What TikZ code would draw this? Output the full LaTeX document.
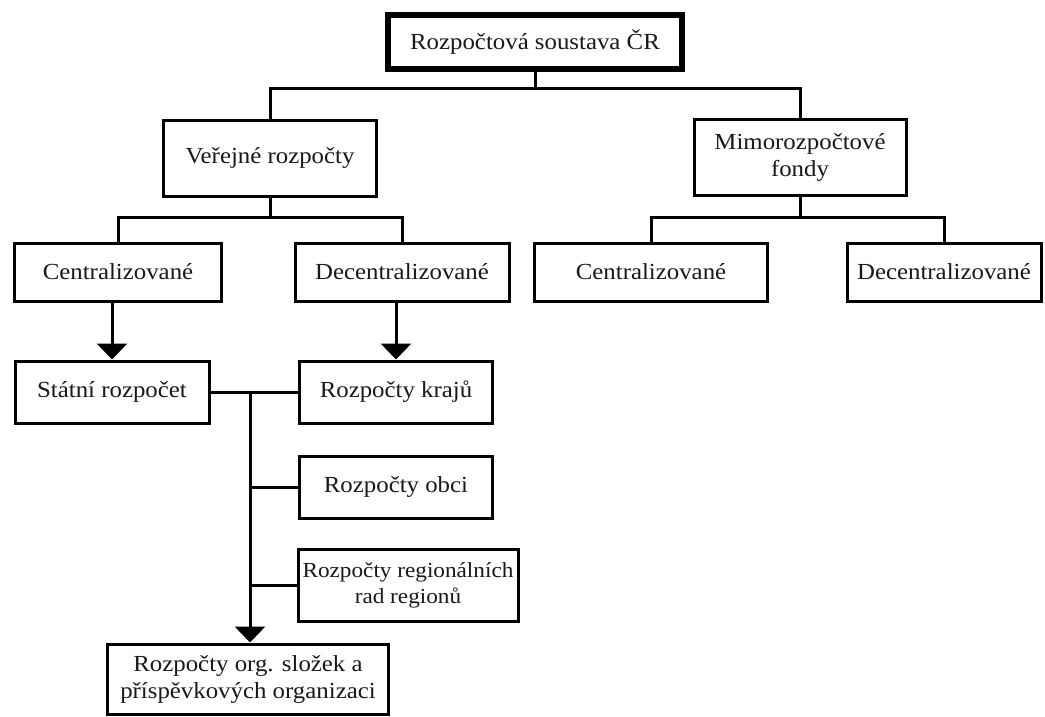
\documentclass[tikz,border=0pt]{standalone}
\usepackage{fontspec}
\setmainfont{Liberation Serif}[FakeStretch=1.08]
\usetikzlibrary{arrows.meta}
\begin{document}
\begin{tikzpicture}[x={(1pt,0)}, y={(0,-1pt)},
  box/.style={draw, line width=3pt, inner sep=0pt, align=center,
    font=\fontsize{23}{27}\selectfont, text=black!90},
  link/.style={line width=3pt},
  arr/.style={line width=3pt, -{Triangle[width=30pt,length=16pt]}}]
\fill[white] (0,0) rectangle (1045,717);
\useasboundingbox (0,0) rectangle (1045,717);
% boxes
\node[box, line width=5.5pt, minimum width=294pt, minimum height=54pt] (top) at (535,42) {Rozpočtová soustava ČR};
\node[box, minimum width=213pt, minimum height=76pt] (ver) at (270,158) {Veřejné rozpočty};
\node[box, minimum width=212pt, minimum height=76pt] (mimo) at (800,157) {Mimorozpočtové\\fondy};
\node[box, minimum width=207pt, minimum height=58pt] (lc) at (118,272) {Centralizované};
\node[box, minimum width=214pt, minimum height=58pt] (ld) at (402,272) {Decentralizované};
\node[box, minimum width=233pt, minimum height=58pt] (rc) at (651,272) {Centralizované};
\node[box, minimum width=194pt, minimum height=58pt] (rd) at (944,272) {Decentralizované};
\node[box, minimum width=194pt, minimum height=62pt] (st) at (112,392) {Státní rozpočet};
\node[box, minimum width=193pt, minimum height=62pt] (kr) at (396,392) {Rozpočty krajů};
\node[box, minimum width=193pt, minimum height=62pt] (ob) at (396,487) {Rozpočty obci};
\node[box, minimum width=220pt, minimum height=72pt, font=\fontsize{21.5}{26}\selectfont] (rg) at (408,585) {Rozpočty regionálních\\rad regionů};
\node[box, minimum width=281pt, minimum height=70pt] (bt) at (248,679) {Rozpočty org. složek a\\příspěvkových organizaci};
% top level connectors
\draw[link] (top.south) -- ++(0,17) coordinate (j1);
\draw[link] (ver.north) -- (ver.north |- j1) -- (mimo.north |- j1) -- (mimo.north);
% second level
\draw[link] (ver.south) -- ++(0,20) coordinate (j2);
\draw[link] (lc.north) -- (lc.north |- j2) -- (ld.north |- j2) -- (ld.north);
\draw[link] (mimo.south) -- ++(0,21) coordinate (j3);
\draw[link] (rc.north) -- (rc.north |- j3) -- (rd.north |- j3) -- (rd.north);
% arrows
\draw[arr] (st.north |- lc.south) -- (st.north);
\draw[arr] (kr.north |- ld.south) -- (kr.north);
% trunk
\draw[link] (st.east) -- (kr.west);
\coordinate (t0) at (250,392);
\draw[arr] (t0) -- (t0 |- bt.north);
\draw[link] (t0 |- ob.west) -- (ob.west);
\draw[link] (t0 |- rg.west) -- (rg.west);
\end{tikzpicture}
\end{document}
